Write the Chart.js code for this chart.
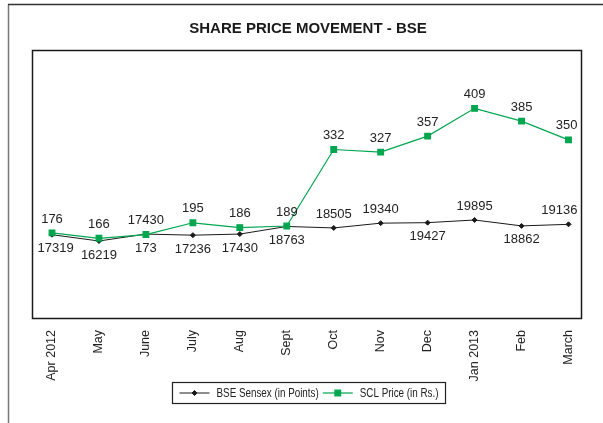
<!DOCTYPE html>
<html>
<head>
<meta charset="utf-8">
<script src="https://cdn.jsdelivr.net/npm/chart.js@4/dist/chart.umd.min.js"></script>
<style>
  html, body { margin: 0; padding: 0; background: #fff; }
  canvas { display: block; }
</style>
</head>
<body>
<canvas id="priceChart" width="603" height="423"></canvas>
<script>
const months = ['Apr 2012', 'May', 'June', 'July', 'Aug', 'Sept', 'Oct', 'Nov', 'Dec', 'Jan 2013', 'Feb', 'March'];
const sensex = [17319, 16219, 17430, 17236, 17430, 18763, 18505, 19340, 19427, 19895, 18862, 19136];
const sclPrice = [176, 166, 173, 195, 186, 189, 332, 327, 357, 409, 385, 350];
// where each value label sits relative to its point
const sensexLabelSide = ['below', 'below', 'above', 'below', 'below', 'below', 'above', 'above', 'below', 'above', 'below', 'above'];
const sclLabelSide = ['above', 'above', 'below', 'above', 'above', 'above', 'above', 'above', 'above', 'above', 'above', 'above'];

const GREEN = '#00a64f';
const SANS = '"Liberation Sans", Arial, sans-serif';
const CONDENSE = 0.82; // legend text is a narrow face

// frame, plot box, title, value labels and legend
const decorations = {
    id: 'decorations',
    beforeDraw(chart) {
        const ctx = chart.ctx;
        const a = chart.chartArea;
        ctx.save();
        // outer frame
        ctx.strokeStyle = '#777';
        ctx.lineWidth = 1.5;
        ctx.beginPath();
        ctx.moveTo(8.5, 423);
        ctx.lineTo(8.5, 4.5);
        ctx.stroke();
        ctx.strokeStyle = '#333';
        ctx.beginPath();
        ctx.moveTo(8, 4.5);
        ctx.lineTo(603, 4.5);
        ctx.stroke();
        // plot box
        ctx.strokeStyle = '#1a1a1a';
        ctx.lineWidth = 1.5;
        ctx.strokeRect(a.left - 19.5, a.top + 0.5, a.width + 32.5, a.height);
        // title
        ctx.fillStyle = '#1a1a1a';
        ctx.font = 'bold 15px ' + SANS;
        ctx.textAlign = 'center';
        ctx.textBaseline = 'middle';
        ctx.fillText('SHARE PRICE MOVEMENT - BSE', 308, 29);
        ctx.restore();
    },
    afterDatasetsDraw(chart) {
        const ctx = chart.ctx;
        const a = chart.chartArea;
        const boxLeft = a.left - 19.5, boxRight = a.right + 13;
        ctx.save();
        ctx.fillStyle = '#222';
        ctx.font = '13px ' + SANS;
        ctx.textAlign = 'center';
        ctx.textBaseline = 'middle';
        const sides = [sensexLabelSide, sclLabelSide];
        chart.data.datasets.forEach((ds, di) => {
            chart.getDatasetMeta(di).data.forEach((pt, i) => {
                const text = String(ds.data[i]);
                const w = ctx.measureText(text).width;
                let x = pt.x;
                x = Math.max(x, boxLeft + 5 + w / 2);
                x = Math.min(x, boxRight - 4 - w / 2);
                const y = sides[di][i] === 'above' ? pt.y - 14 : pt.y + 14;
                ctx.fillText(text, x, y);
            });
        });

        // legend
        ctx.font = '12px ' + SANS;
        ctx.textAlign = 'left';
        const items = chart.data.datasets.map(ds => ({ ds, w: ctx.measureText(ds.label).width * CONDENSE }));
        const lineLen = 30;
        const total = 7 + items.reduce((s, it) => s + lineLen + 7 + it.w + 4, 0) + 3;
        const lx = Math.round(308.5 - total / 2) + 0.5;
        const ly = 382.5, lh = 21;
        ctx.strokeStyle = '#222';
        ctx.lineWidth = 1.2;
        ctx.strokeRect(lx, ly, total, lh);
        let cx = lx + 7;
        const cy = ly + lh / 2;
        items.forEach(it => {
            const ds = it.ds;
            ctx.strokeStyle = ds.borderColor;
            ctx.lineWidth = ds.borderWidth;
            ctx.beginPath();
            ctx.moveTo(cx, cy);
            ctx.lineTo(cx + lineLen, cy);
            ctx.stroke();
            ctx.fillStyle = ds.pointBackgroundColor;
            ctx.strokeStyle = ds.pointBorderColor;
            Chart.helpers.drawPoint(ctx, {
                pointStyle: ds.pointStyle, radius: ds.pointRadius, borderWidth: 1, rotation: 0
            }, cx + lineLen / 2, cy);
            ctx.fillStyle = '#222';
            ctx.save();
            ctx.translate(cx + lineLen + 7, cy + 0.5);
            ctx.scale(CONDENSE, 1);
            ctx.fillText(ds.label, 0, 0);
            ctx.restore();
            cx += lineLen + 7 + it.w + 4;
        });
        ctx.restore();
    }
};

const ctx = document.getElementById('priceChart').getContext('2d');
new Chart(ctx, {
    type: 'line',
    data: {
        labels: months,
        datasets: [{
            label: 'BSE Sensex (in Points)',
            data: sensex,
            yAxisID: 'ySensex',
            borderColor: '#1a1a1a',
            borderWidth: 1,
            pointStyle: 'rectRot',
            pointRadius: 2.5,
            pointBackgroundColor: '#1a1a1a',
            pointBorderColor: '#1a1a1a',
            tension: 0,
            order: 1
        }, {
            label: 'SCL Price (in Rs.)',
            data: sclPrice,
            yAxisID: 'yScl',
            borderColor: GREEN,
            borderWidth: 1.2,
            pointStyle: 'rect',
            pointRadius: 4,
            pointBackgroundColor: GREEN,
            pointBorderColor: GREEN,
            tension: 0,
            order: 0
        }]
    },
    options: {
        responsive: false,
        animation: false,
        devicePixelRatio: 1,
        layout: { padding: { left: 52, right: 34.5, top: 50, bottom: 0 } },
        plugins: {
            legend: { display: false },
            title: { display: false },
            tooltip: { enabled: false }
        },
        scales: {
            x: {
                offset: false,
                grid: { display: false, drawTicks: false },
                border: { display: false },
                ticks: {
                    autoSkip: false,
                    maxRotation: 90,
                    minRotation: 90,
                    padding: 12,
                    color: '#222',
                    font: { family: SANS, size: 12.5 }
                },
                afterFit(scale) { scale.height = 105; }
            },
            ySensex: { display: false, min: 2740, max: 49650 },
            yScl: { display: false, min: 17, max: 518 }
        }
    },
    plugins: [decorations]
});
</script>
</body>
</html>
